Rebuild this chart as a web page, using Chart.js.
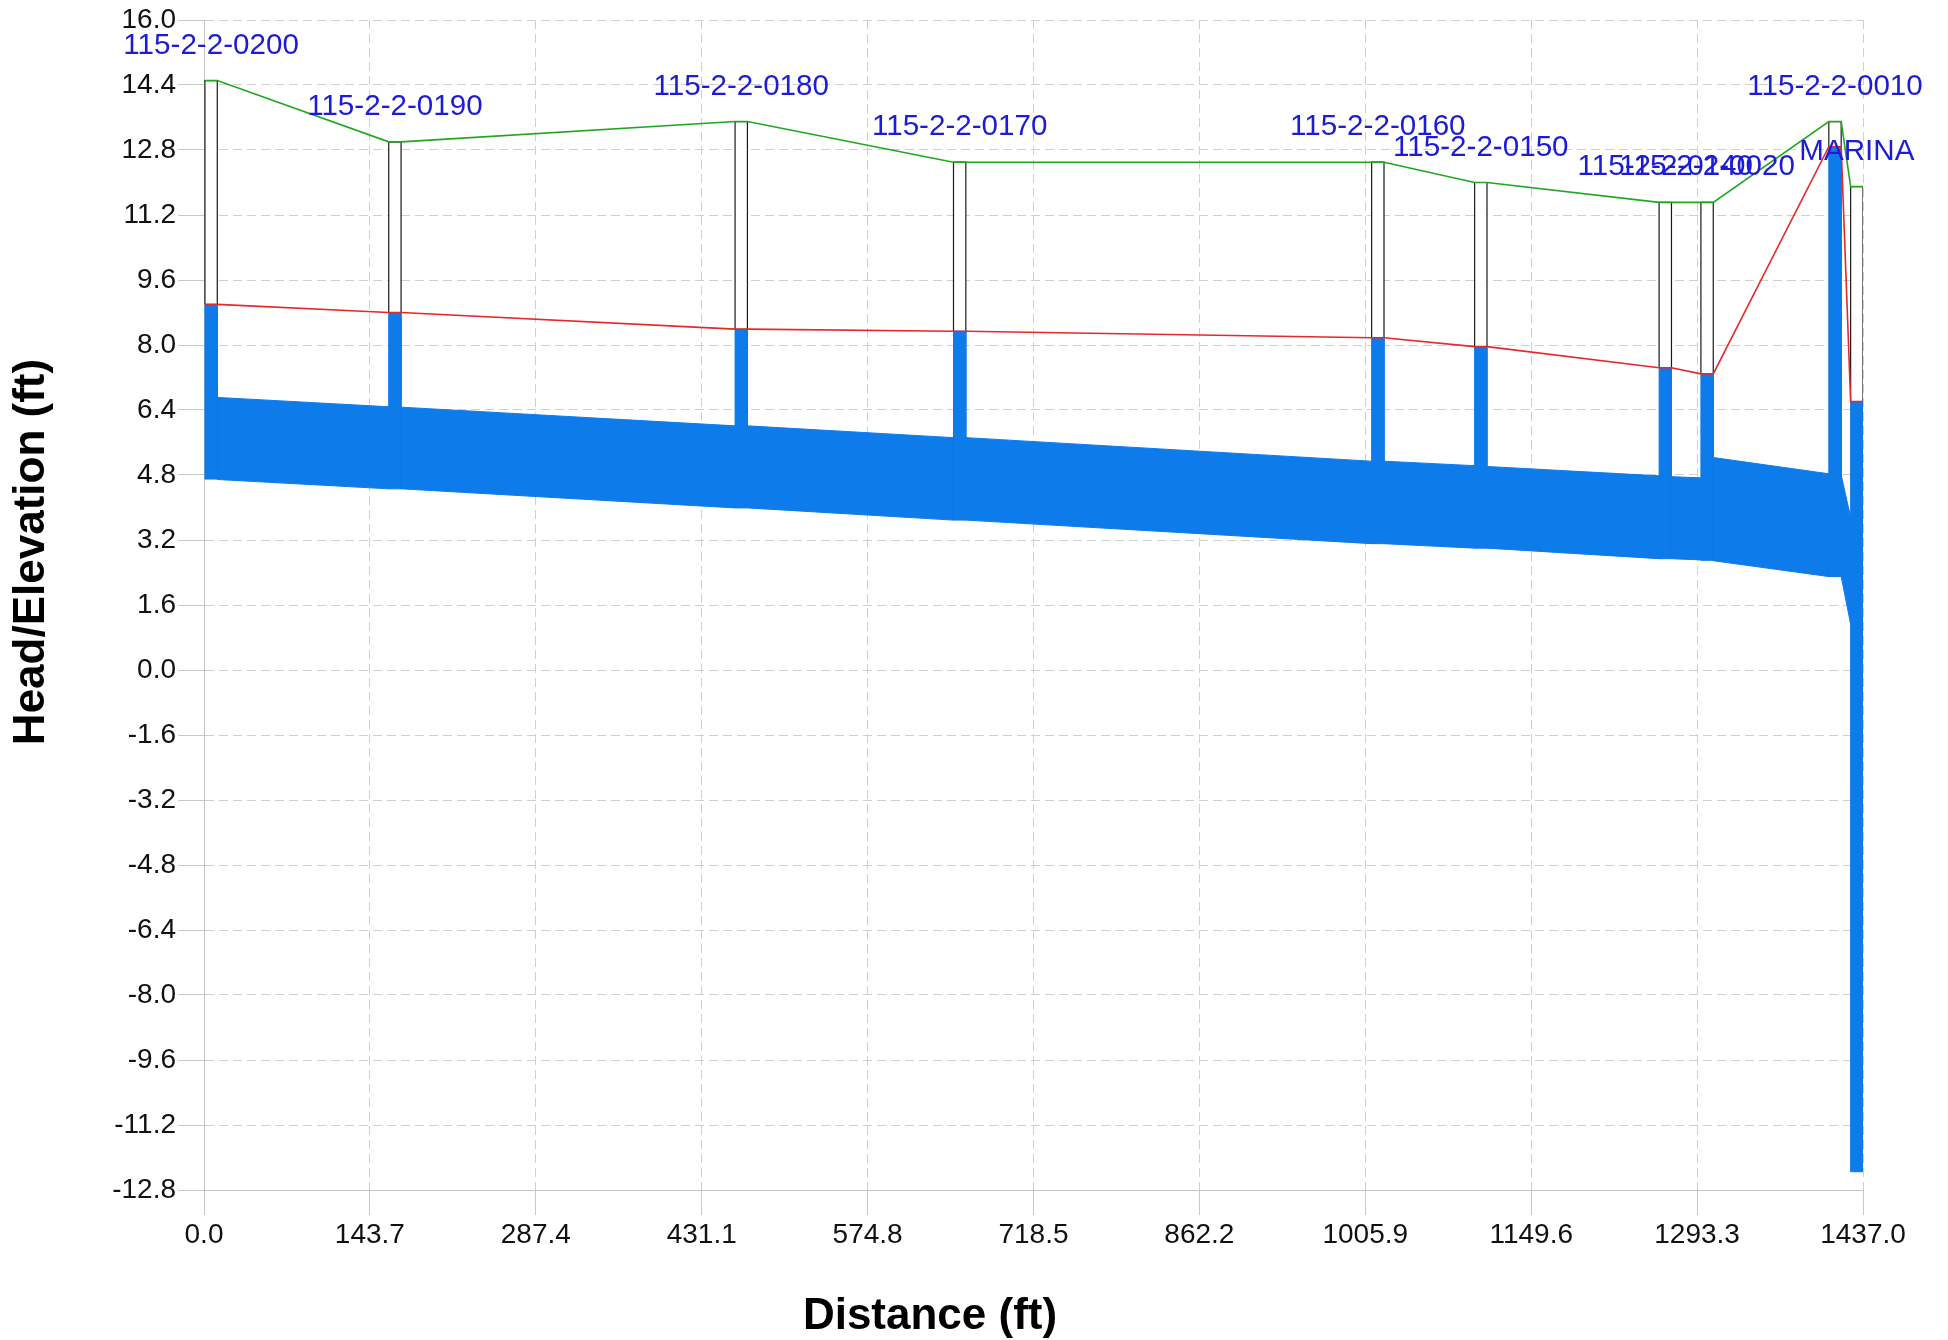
<!DOCTYPE html>
<html>
<head>
<meta charset="utf-8">
<title>Profile</title>
<script src="https://cdn.jsdelivr.net/npm/chart.js@4/dist/chart.umd.min.js"></script>
<style>
  html, body { margin: 0; padding: 0; background: #fff; }
  #wrap { width: 1948px; height: 1340px; }
</style>
</head>
<body>
<div id="wrap"><canvas id="profile" width="1948" height="1340"></canvas></div>
<script>
// Manholes along the run, upstream to outfall
const nodeNames = [
  "115-2-2-0200", "115-2-2-0190", "115-2-2-0180", "115-2-2-0170", "115-2-2-0160",
  "115-2-2-0150", "115-2-2-0140", "115-2-2-0020", "115-2-2-0010", "MARINA",
];
const nodeStation = [0.8, 160.0, 460.0, 649.2, 1011.4, 1100.6, 1260.4, 1296.6, 1407.4, 1426.3];
const rimElev = [14.51, 13.0, 13.5, 12.5, 12.5, 12.0, 11.51, 11.51, 13.5, 11.9];
const hglElev = [9.0, 8.8, 8.39, 8.34, 8.18, 7.96, 7.44, 7.29, 12.88, 6.61];
const invertElev = [4.7, 4.46, 3.99, 3.69, 3.11, 3.0, 2.74, 2.7, 2.3, -12.35];

// Pipes between consecutive nodes: crown / invert at each end
const pipeUpCrown = [6.71, 6.47, 6.01, 5.72, 5.14, 5.01, 4.76, 5.23, 4.8];
const pipeUpInvert = [4.69, 4.46, 3.99, 3.69, 3.11, 3.0, 2.74, 2.69, 2.3];
const pipeDnCrown = [6.48, 6.01, 5.72, 5.14, 5.03, 4.78, 4.73, 4.83, 3.76];
const pipeDnInvert = [4.46, 3.99, 3.69, 3.11, 3.0, 2.74, 2.71, 2.3, 1.13];

const xTicks = [0.0, 143.7, 287.4, 431.1, 574.8, 718.5, 862.2, 1005.9, 1149.6, 1293.3, 1437.0];
const yTicks = [
  -12.8, -11.2, -9.6, -8.0, -6.4, -4.8, -3.2, -1.6, 0.0, 1.6,
  3.2, 4.8, 6.4, 8.0, 9.6, 11.2, 12.8, 14.4, 16.0,
];

const NODE_W = 10.7;
const WATER = "#0d7be9";
const FONT = '"Liberation Sans", Arial, sans-serif';

function left(i) {
  return nodeStation[i];
}
function right(i) {
  return nodeStation[i] + NODE_W;
}

function shape(points, fillColor, lineColor, lineWidth, order) {
  return {
    data: points,
    showLine: true,
    fill: "shape",
    backgroundColor: fillColor,
    borderColor: lineColor,
    borderWidth: lineWidth,
    pointRadius: 0,
    tension: 0,
    order: order,
  };
}

function buildDatasets() {
  const sets = [];

  // pipe barrels (flowing full)
  for (let i = 0; i < pipeUpCrown.length; i++) {
    sets.push(
      shape(
        [
          { x: right(i), y: pipeUpCrown[i] },
          { x: left(i + 1), y: pipeDnCrown[i] },
          { x: left(i + 1), y: pipeDnInvert[i] },
          { x: right(i), y: pipeUpInvert[i] },
          { x: right(i), y: pipeUpCrown[i] },
        ],
        WATER, WATER, 1, 3
      )
    );
  }

  nodeNames.forEach((name, i) => {
    // empty part of the manhole, water surface up to rim
    sets.push(
      shape(
        [
          { x: left(i), y: hglElev[i] },
          { x: left(i), y: rimElev[i] },
          { x: right(i), y: rimElev[i] },
          { x: right(i), y: hglElev[i] },
        ],
        "#ffffff", "#1a1a1a", 1.2, 2
      )
    );
    // water standing in the manhole
    sets.push(
      shape(
        [
          { x: left(i), y: invertElev[i] },
          { x: left(i), y: hglElev[i] },
          { x: right(i), y: hglElev[i] },
          { x: right(i), y: invertElev[i] },
          { x: left(i), y: invertElev[i] },
        ],
        WATER, WATER, 1, 1
      )
    );
  });

  const rimLine = [];
  const hglLine = [];
  nodeNames.forEach((name, i) => {
    rimLine.push({ x: left(i), y: rimElev[i] }, { x: right(i), y: rimElev[i] });
    hglLine.push({ x: left(i), y: hglElev[i] }, { x: right(i), y: hglElev[i] });
  });

  sets.push({
    data: rimLine,
    showLine: true,
    fill: false,
    borderColor: "#1fa81f",
    borderWidth: 1.6,
    pointRadius: 0,
    tension: 0,
    order: 0,
  });
  sets.push({
    data: hglLine,
    showLine: true,
    fill: false,
    borderColor: "#e62828",
    borderWidth: 1.6,
    pointRadius: 0,
    tension: 0,
    order: 0,
  });

  return sets;
}

// node names above each rim, plus the axis titles
const profileText = {
  id: "profileText",
  afterDatasetsDraw(chart) {
    const ctx = chart.ctx;
    const xs = chart.scales.x;
    const ys = chart.scales.y;
    ctx.save();
    ctx.font = "29.6px " + FONT;
    ctx.fillStyle = "#1b1bd8";
    ctx.textAlign = "center";
    ctx.textBaseline = "alphabetic";
    nodeNames.forEach((name, i) => {
      const px = xs.getPixelForValue(nodeStation[i] + NODE_W / 2);
      const py = ys.getPixelForValue(rimElev[i]) - 27;
      ctx.fillText(name, px, py);
    });

    ctx.fillStyle = "#000";
    ctx.font = "bold 44px " + FONT;
    ctx.textBaseline = "middle";
    ctx.fillText("Distance (ft)", 930, 1317);
    ctx.translate(32, 552);
    ctx.rotate(-Math.PI / 2);
    ctx.fillText("Head/Elevation (ft)", 0, 0);
    ctx.restore();
  },
};

const gridStyle = {
  color: "#cfcfcf",
  lineWidth: 1,
  tickColor: "#c8c8c8",
};
const borderStyle = {
  display: true,
  color: "#c4c4c4",
  width: 1,
  dash: [9, 5],
};

new Chart(document.getElementById("profile"), {
  type: "scatter",
  data: { datasets: buildDatasets() },
  options: {
    responsive: false,
    animation: false,
    devicePixelRatio: 1,
    layout: { padding: { top: 20, right: 85, bottom: 0, left: 0 } },
    plugins: {
      legend: { display: false },
      tooltip: { enabled: false },
    },
    scales: {
      x: {
        type: "linear",
        min: 0,
        max: 1437,
        afterBuildTicks: (scale) => {
          scale.ticks = xTicks.map((v) => ({ value: v }));
        },
        afterFit: (scale) => {
          scale.height = 150;
        },
        grid: Object.assign({ tickLength: 25 }, gridStyle),
        border: borderStyle,
        ticks: {
          autoSkip: false,
          maxRotation: 0,
          padding: 3,
          color: "#111",
          font: { family: FONT, size: 28 },
          callback: (v) => Number(v).toFixed(1),
        },
      },
      y: {
        type: "linear",
        min: -12.8,
        max: 16.0,
        afterBuildTicks: (scale) => {
          scale.ticks = yTicks.map((v) => ({ value: v }));
        },
        afterFit: (scale) => {
          scale.width = 204;
        },
        grid: Object.assign({ tickLength: 26 }, gridStyle),
        border: borderStyle,
        ticks: {
          autoSkip: false,
          padding: 2,
          color: "#111",
          font: { family: FONT, size: 28 },
          callback: (v) => Number(v).toFixed(1),
        },
      },
    },
  },
  plugins: [profileText],
});
</script>
</body>
</html>
